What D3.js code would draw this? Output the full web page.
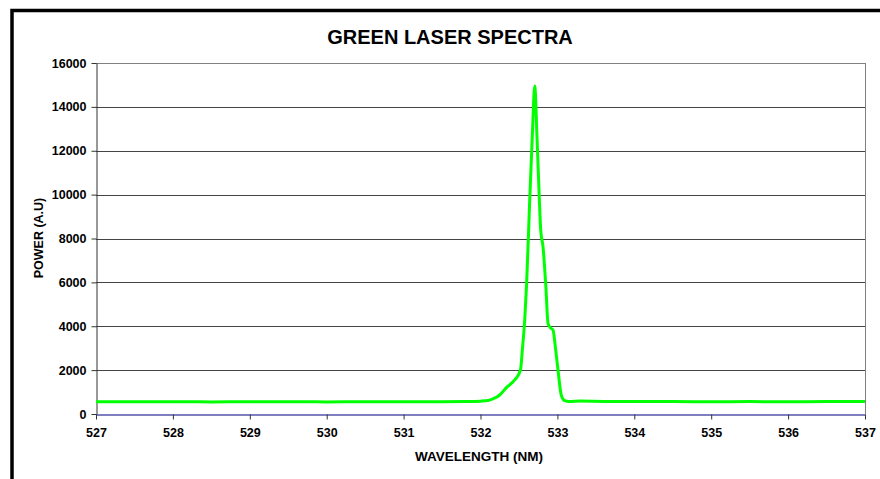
<!DOCTYPE html>
<html>
<head>
<meta charset="utf-8">
<script src="https://cdn.jsdelivr.net/npm/d3@7"></script>
<style>
  body { margin: 0; background: #fff; }
  text { font-family: "Liberation Sans", Arial, sans-serif; font-weight: bold; }
</style>
</head>
<body>
<svg id="chart" width="880" height="479"></svg>
<script>
// spectrum (nm, arbitrary units)
const wavelength = [527, 527.5, 528, 528.5, 529, 529.5, 530, 530.5, 531, 531.5, 531.8,
  532.0, 532.1, 532.16, 532.25, 532.34, 532.445, 532.52, 532.544, 532.575, 532.60,
  532.64, 532.675, 532.705, 532.735, 532.765, 532.783, 532.813, 532.85, 532.878,
  532.905, 532.943, 532.978, 533.008, 533.05, 533.094, 533.15, 533.3, 533.6, 534,
  534.5, 535, 535.5, 536, 536.5, 537];
const power = [560, 555, 560, 552, 556, 560, 552, 556, 560, 556, 565,
  585, 615, 684, 866, 1215, 1550, 2006, 2917, 4285, 5957,
  9754, 12793, 14950, 12600, 9800, 8387, 7624, 5800, 4134,
  3950, 3829, 2917, 2006, 866, 606, 570, 590, 575, 570,
  565, 560, 565, 560, 565, 570];

const xTicks = [527, 528, 529, 530, 531, 532, 533, 534, 535, 536, 537];
const yTicks = [0, 2000, 4000, 6000, 8000, 10000, 12000, 14000, 16000];

const svg = d3.select('#chart');
const margin = { left: 96, top: 63, right: 865, bottom: 414 };

// outer chart frame (runs off the right and bottom edges)
svg.append('rect')
  .attr('x', 12).attr('y', 10.5)
  .attr('width', 900).attr('height', 500)
  .attr('fill', 'none').attr('stroke', '#000').attr('stroke-width', 3.5);

const x = d3.scaleLinear().domain([527, 537]).range([margin.left, margin.right]);
const y = d3.scaleLinear().domain([0, 16000]).range([margin.bottom, margin.top]);

// gridlines
svg.append('g')
  .selectAll('line')
  .data(yTicks.filter(d => d > 0))
  .join('line')
    .attr('x1', margin.left).attr('x2', margin.right)
    .attr('y1', d => Math.round(y(d)) + 0.5).attr('y2', d => Math.round(y(d)) + 0.5)
    .attr('stroke', d => d === 16000 ? '#808080' : '#444');

// right border of plot area
svg.append('line')
  .attr('x1', margin.right + 0.5).attr('x2', margin.right + 0.5)
  .attr('y1', margin.top).attr('y2', margin.bottom)
  .attr('stroke', '#808080');

// y axis
const yAxis = d3.axisLeft(y).tickValues(yTicks).tickSize(5).tickPadding(5).tickSizeOuter(0)
  .tickFormat(d3.format('d'));
svg.append('g')
  .attr('class', 'y-axis')
  .attr('transform', `translate(${margin.left + 0.5},0)`)
  .call(yAxis)
  .call(g => g.select('.domain').attr('stroke', '#333'))
  .call(g => g.selectAll('.tick line').attr('stroke', '#333'))
  .call(g => g.selectAll('text').style('font-size', '12.5px').attr('fill', '#000'));

// x axis
const xAxis = d3.axisBottom(x).tickValues(xTicks).tickSize(5).tickPadding(9).tickSizeOuter(0)
  .tickFormat(d3.format('d'));
svg.append('g')
  .attr('class', 'x-axis')
  .attr('transform', `translate(0,${margin.bottom + 0.5})`)
  .call(xAxis)
  .call(g => g.select('.domain').attr('stroke', '#000080'))
  .call(g => g.selectAll('.tick line').attr('stroke', '#333'))
  .call(g => g.selectAll('text').style('font-size', '12.5px').attr('fill', '#000'));

// spectrum line
const line = d3.line()
  .x((d, i) => x(wavelength[i]))
  .y(d => y(d))
  .curve(d3.curveMonotoneX);

svg.append('path')
  .datum(power)
  .attr('d', line)
  .attr('fill', 'none')
  .attr('stroke', '#00ff00')
  .attr('stroke-width', 3)
  .attr('stroke-linejoin', 'round');

// titles
svg.append('text')
  .attr('x', 450).attr('y', 44)
  .attr('text-anchor', 'middle')
  .style('font-size', '20px')
  .text('GREEN LASER SPECTRA');

svg.append('text')
  .attr('x', 479).attr('y', 461)
  .attr('text-anchor', 'middle')
  .style('font-size', '13.5px')
  .text('WAVELENGTH (NM)');

svg.append('text')
  .attr('transform', 'translate(43,238) rotate(-90)')
  .attr('text-anchor', 'middle')
  .style('font-size', '12.5px')
  .text('POWER (A.U)');
</script>
</body>
</html>
